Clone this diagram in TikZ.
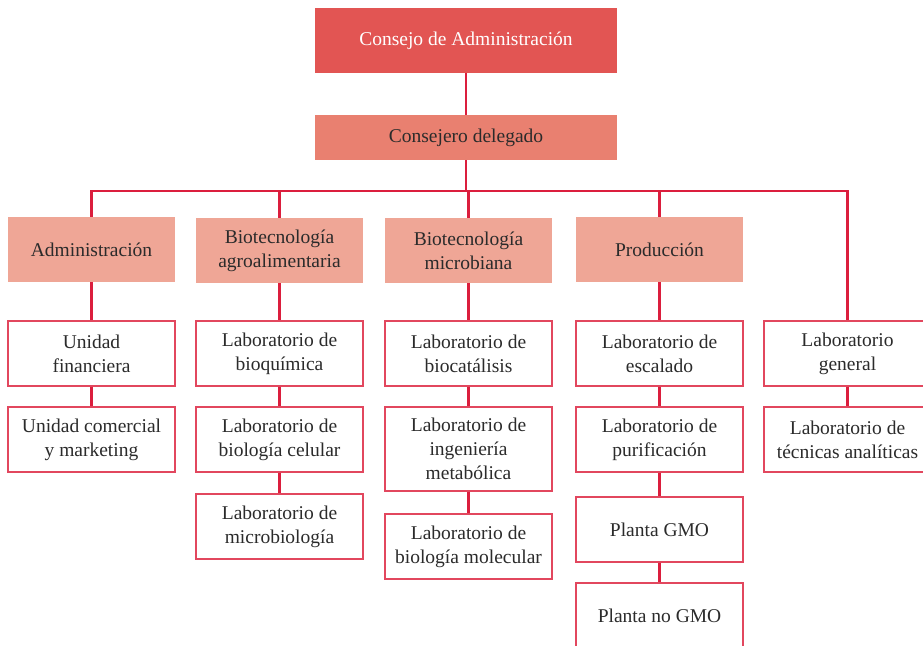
\documentclass[tikz,border=0pt]{standalone}
\usepackage{fontspec}
\setmainfont{Liberation Serif}
\definecolor{topred}{HTML}{E25553}
\definecolor{midred}{HTML}{E98070}
\definecolor{lightred}{HTML}{EFA696}
\definecolor{linered}{HTML}{DB1E3D}
\definecolor{boxred}{HTML}{E2475E}
\definecolor{txt}{HTML}{2B2B2B}
\tikzset{
  base/.style={rectangle, minimum width=167pt, minimum height=65pt, inner sep=2pt,
    align=center, text=txt, font=\fontsize{19.5}{24}\selectfont},
  topbox/.style={base, fill=topred, text=white, minimum width=302pt},
  midbox/.style={base, fill=midred, minimum width=302pt, minimum height=45pt},
  areabox/.style={base, fill=lightred},
  unitbox/.style={base, fill=white, draw=boxred, line width=1.4pt},
  link/.style={draw=linered, line width=2.4pt}
}
\begin{document}
\begin{tikzpicture}[x=1pt,y=-1pt]
\clip (0,0) rectangle (923,645);
\fill[white] (0,0) rectangle (923,645);
\node[topbox] (cda) at (466,40.5) {Consejo de Administración};
\node[midbox] (ceo) at (466,137.5) {Consejero delegado};
\node[areabox] (adm) at (91.5,249.5) {Administración};
\node[areabox] (bag) at (279.5,250.5) {Biotecnología\\agroalimentaria};
\node[areabox] (bmi) at (468.5,250.5) {Biotecnología\\microbiana};
\node[areabox] (pro) at (659.5,249.5) {Producción};
% column 1
\node[unitbox] (u1) at (91.5,353.5) {Unidad\\financiera};
\node[unitbox] (u2) at (91.5,439.5) {Unidad comercial\\y marketing};
% column 2
\node[unitbox] (b1) at (279.5,353.5) {Laboratorio de\\bioquímica};
\node[unitbox] (b2) at (279.5,439.5) {Laboratorio de\\biología celular};
\node[unitbox] (b3) at (279.5,526.5) {Laboratorio de\\microbiología};
% column 3
\node[unitbox] (m1) at (468.5,353.5) {Laboratorio de\\biocatálisis};
\node[unitbox, minimum height=84pt] (m2) at (468.5,449) {Laboratorio de\\ingeniería\\metabólica};
\node[unitbox] (m3) at (468.5,546.5) {Laboratorio de\\biología molecular};
% column 4
\node[unitbox] (p1) at (659.5,353.5) {Laboratorio de\\escalado};
\node[unitbox] (p2) at (659.5,439.5) {Laboratorio de\\purificación};
\node[unitbox] (p3) at (659.5,529.5) {Planta GMO};
\node[unitbox] (p4) at (659.5,615.5) {Planta no GMO};
% column 5
\node[unitbox] (g1) at (847.5,353.5) {Laboratorio\\general};
\node[unitbox] (g2) at (847.5,439.5) {Laboratorio de\\técnicas analíticas};
% links
\path[link] (cda.south) -- (ceo.north);
\coordinate (bus) at (466,191);
\path[link] (ceo.south) -- (bus);
\path[link] (bus) -| (adm.north);
\path[link] (bus) -| (bag.north);
\path[link] (bus) -| (bmi.north);
\path[link] (bus) -| (pro.north);
\path[link] (bus) -| (g1.north);
\path[link] (adm.south) -- (u1.north);
\path[link] (u1.south) -- (u2.north);
\path[link] (bag.south) -- (b1.north);
\path[link] (b1.south) -- (b2.north);
\path[link] (b2.south) -- (b3.north);
\path[link] (bmi.south) -- (m1.north);
\path[link] (m1.south) -- (m2.north);
\path[link] (m2.south) -- (m3.north);
\path[link] (pro.south) -- (p1.north);
\path[link] (p1.south) -- (p2.north);
\path[link] (p2.south) -- (p3.north);
\path[link] (p3.south) -- (p4.north);
\path[link] (g1.south) -- (g2.north);
\end{tikzpicture}
\end{document}
